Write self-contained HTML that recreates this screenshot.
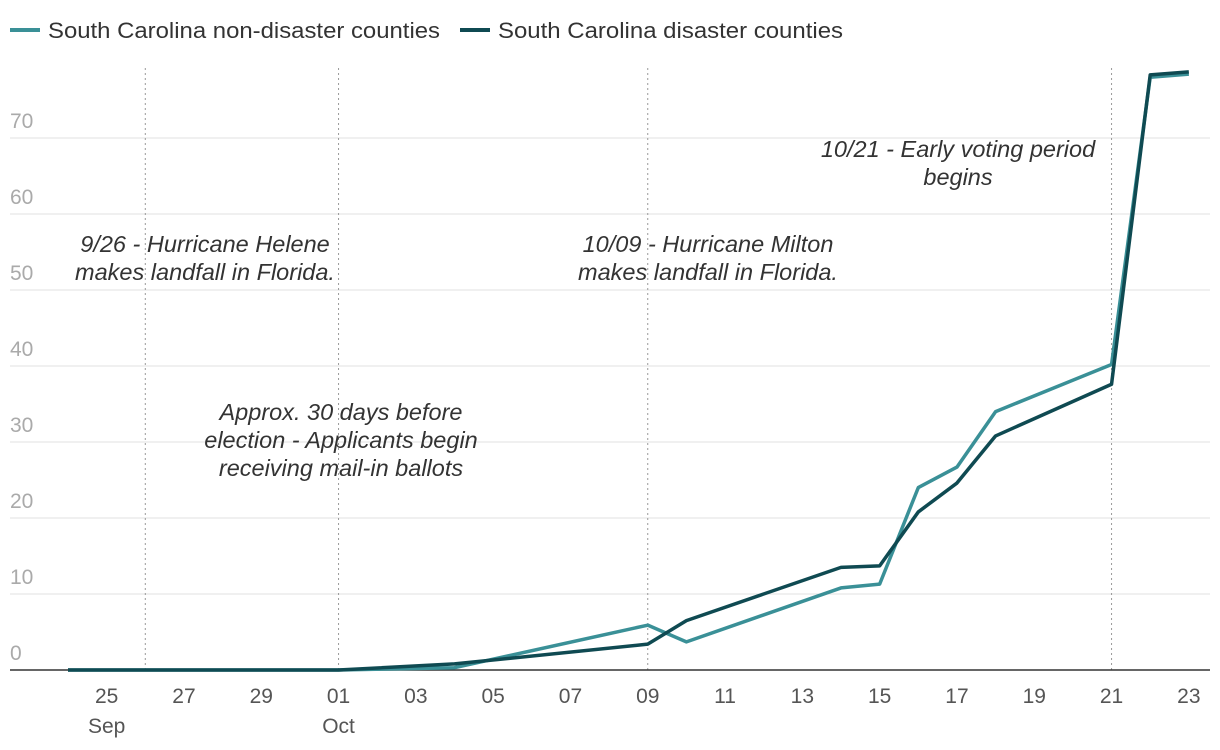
<!DOCTYPE html>
<html><head><meta charset="utf-8"><style>
body{margin:0;background:#fff;font-family:"Liberation Sans",sans-serif}
</style></head><body>
<svg id="c" width="1220" height="750" style="display:block"></svg>
<script>
const days=[0,7,10,15,16,20,21,22,23,24,27,28,29];
const nonDisaster=[0,0,0.3,5.9,3.7,10.8,11.3,24,26.7,34,40.2,78.0,78.4];
const disaster=[0,0,0.8,3.4,6.5,13.5,13.7,20.8,24.6,30.8,37.6,78.3,78.7];
const yTicks=[0,10,20,30,40,50,60,70];
const xTickDays=[1,3,5,7,9,11,13,15,17,19,21,23,25,27,29];
const xTickLabels=["25","27","29","01","03","05","07","09","11","13","15","17","19","21","23"];
const eventDays=[2,7,15,27];
const NS="http://www.w3.org/2000/svg";
const svg=document.getElementById('c');
const X=d=>68+d*38.65, Y=v=>670-v*7.6;
function el(t,a,txt){const e=document.createElementNS(NS,t);for(const k in a)e.setAttribute(k,a[k]);if(txt!=null)e.textContent=txt;svg.appendChild(e);return e;}
yTicks.forEach(v=>{
  if(v>0){const g=el('line',{x1:10,x2:1210,y1:Y(v),y2:Y(v),stroke:'#e2e2e2','stroke-width':1});
  
  }
  const t=el('text',{x:10,y:Y(v)-10,fill:'#aaa','font-size':21},String(v));
  
  
});
eventDays.forEach(d=>{
  const l=el('line',{x1:X(d),x2:X(d),y1:68,y2:670,stroke:'#999','stroke-width':1,'stroke-dasharray':'2,3'});
  
  
});
const ax=el('line',{x1:10,x2:1210,y1:670,y2:670,stroke:'#333','stroke-width':1.5});


xTickDays.forEach((d,i)=>{
  const t=el('text',{x:X(d),y:703,fill:'#555','font-size':21,'text-anchor':'middle'},xTickLabels[i]);
  
  
});
[[1,'Sep'],[7,'Oct']].forEach(([d,m])=>{
  const t=el('text',{x:X(d),y:733,fill:'#555','font-size':21,'text-anchor':'middle'},m);
  
  
});
function line(vals,color,name){
  const p=el('polyline',{points:days.map((d,i)=>X(d)+','+Y(vals[i])).join(' '),fill:'none',stroke:color,'stroke-width':3.5,'stroke-linejoin':'round'});
  
  
}
line(nonDisaster,'#3a9097','non-disaster-line');
line(disaster,'#0f4a52','disaster-line');
const ann=[[205,252,['9/26 - Hurricane Helene','makes landfall in Florida.']],
[708,252,['10/09 - Hurricane Milton','makes landfall in Florida.']],
[341,420,['Approx. 30 days before','election - Applicants begin','receiving mail-in ballots']],
[958,157,['10/21 - Early voting period','begins']]];
ann.forEach(([x,y,ls])=>{ls.forEach((s,i)=>{
  const t=el('text',{x:x,y:y+i*28,fill:'#333','font-size':23.5,'font-style':'italic','text-anchor':'middle'},s);
  
  
});});
[[10,'#3a9097','South Carolina non-disaster counties',392],[460,'#0f4a52','South Carolina disaster counties',345]].forEach(([x,c,s,w])=>{
  const l=el('line',{x1:x,x2:x+30,y1:30,y2:30,stroke:c,'stroke-width':4});
  
  
  const t=el('text',{x:x+38,y:38,fill:'#333','font-size':22,textLength:w,lengthAdjust:'spacingAndGlyphs'},s);
  
  
});
</script>
</body></html>
